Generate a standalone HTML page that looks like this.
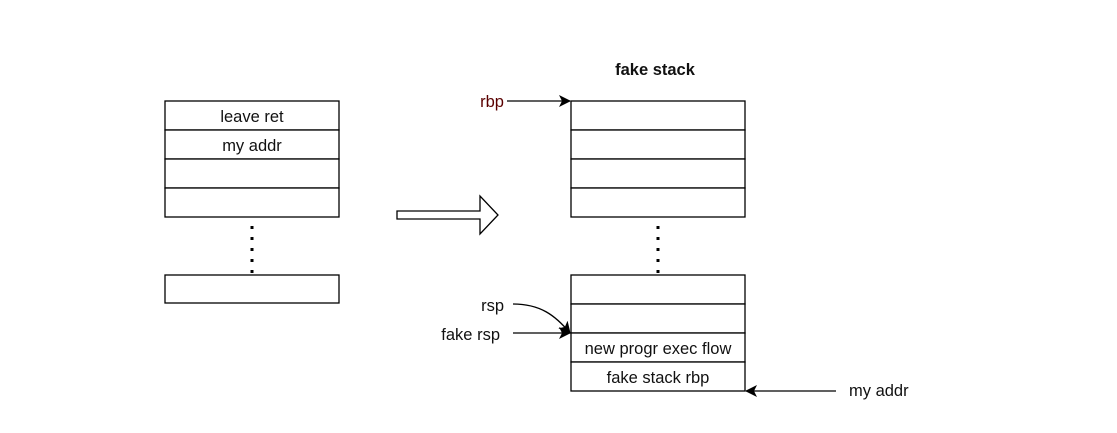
<!DOCTYPE html>
<html><head><style>body{margin:0;background:#fff}</style></head><body>
<svg width="1117" height="428" xmlns="http://www.w3.org/2000/svg" font-family="Liberation Sans, sans-serif" font-size="16.5">
<defs><marker id="a" markerWidth="12" markerHeight="12" refX="11" refY="6" orient="auto" markerUnits="userSpaceOnUse"><path d="M0,0 L12,6 L0,12 L3,6z" fill="#000"/></marker></defs>
<g fill="#fff" stroke="#000" stroke-width="1.3">
<rect x="165" y="101" width="174" height="29"/><rect x="165" y="130" width="174" height="29"/><rect x="165" y="159" width="174" height="29"/><rect x="165" y="188" width="174" height="29"/>
<rect x="165" y="275" width="174" height="28"/>
<rect x="571" y="101" width="174" height="29"/><rect x="571" y="130" width="174" height="29"/><rect x="571" y="159" width="174" height="29"/><rect x="571" y="188" width="174" height="29"/>
<rect x="571" y="275" width="174" height="29"/><rect x="571" y="304" width="174" height="29"/><rect x="571" y="333" width="174" height="29"/><rect x="571" y="362" width="174" height="29"/>
<path d="M397,211 L480,211 L480,196 L498,215 L480,234 L480,219 L397,219 Z"/>
</g>
<g stroke="#000" stroke-width="3" stroke-dasharray="3,8"><line x1="252" y1="226" x2="252" y2="275"/><line x1="658" y1="226" x2="658" y2="275"/></g>
<g stroke="#000" stroke-width="1.3" fill="none">
<line x1="507" y1="101" x2="570" y2="101" marker-end="url(#a)"/>
<line x1="513" y1="333" x2="570" y2="333" marker-end="url(#a)"/>
<path d="M513,304 C540,304 555,315 570,333" marker-end="url(#a)"/>
<line x1="836" y1="391" x2="746" y2="391" marker-end="url(#a)"/>
</g>
<g text-anchor="middle" fill="#111">
<text x="252" y="122">leave ret</text><text x="252" y="151">my addr</text>
<text x="658" y="354">new progr exec flow</text><text x="658" y="383">fake stack rbp</text>
<text x="655" y="75" font-weight="bold">fake stack</text>
</g>
<g text-anchor="end" fill="#111">
<text x="504" y="107" fill="#5a0000">rbp</text><text x="504" y="311">rsp</text><text x="500" y="340">fake rsp</text>
</g>
<text x="849" y="396" fill="#111">my addr</text>
</svg>
</body></html>
